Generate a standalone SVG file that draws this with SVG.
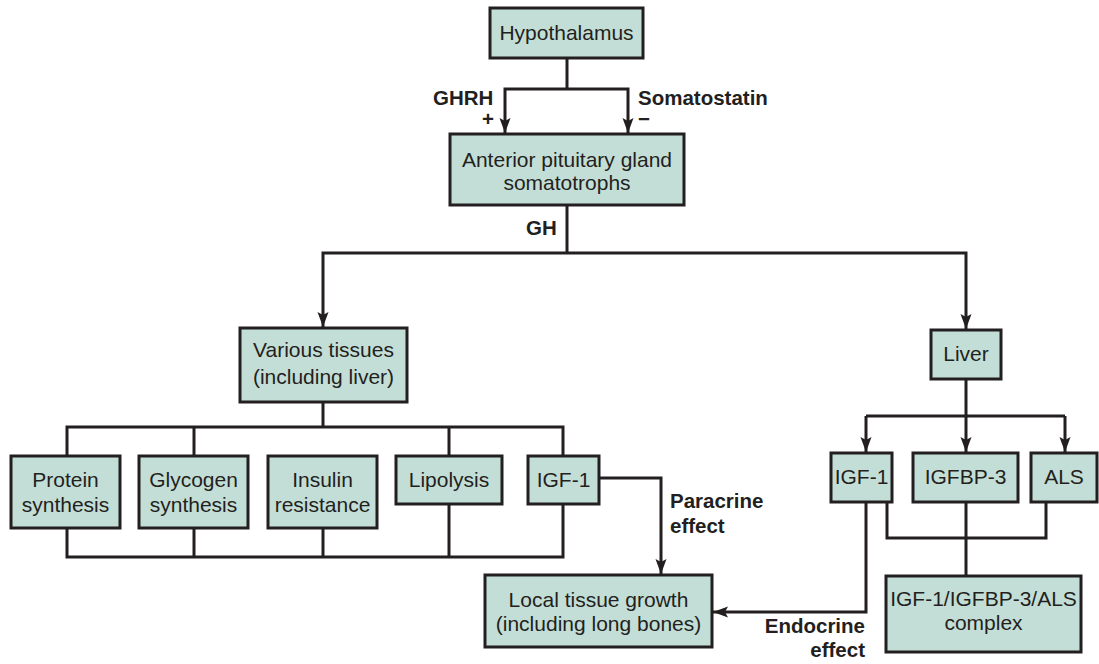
<svg xmlns="http://www.w3.org/2000/svg" width="1099" height="664" viewBox="0 0 1099 664">
<style>
.box{fill:#c3ded6;stroke:#231f20;stroke-width:3}
.t{font-family:"Liberation Sans",Arial,sans-serif;font-size:21px;fill:#231f20;text-anchor:middle}
.b{font-family:"Liberation Sans",Arial,sans-serif;font-size:20.5px;font-weight:bold;fill:#231f20}
.c{fill:none;stroke:#231f20;stroke-width:3}
</style>
<defs>
<marker id="ah" markerUnits="userSpaceOnUse" viewBox="0 -6 15 12" refX="15" refY="0" markerWidth="15" markerHeight="12" orient="auto">
<path d="M0,-5.5 L15,0 L0,5.5 L3,0 z" fill="#231f20"/>
</marker>
</defs>
<rect width="1099" height="664" fill="#ffffff"/>
<g id="connectors">
<path class="c" d="M567 58 V89"/>
<path class="c" d="M567 89 H505 V133" marker-end="url(#ah)"/>
<path class="c" d="M567 89 H628 V133" marker-end="url(#ah)"/>
<path class="c" d="M567 205 V253"/>
<path class="c" d="M567 253 H323 V327" marker-end="url(#ah)"/>
<path class="c" d="M567 253 H966 V329" marker-end="url(#ah)"/>
<path class="c" d="M323 402 V427"/>
<path class="c" d="M67 456 V427 H563 V456"/>
<path class="c" d="M194 427 V456"/>
<path class="c" d="M449 427 V456"/>
<path class="c" d="M67 528 V557 H563 V504"/>
<path class="c" d="M194 528 V557"/>
<path class="c" d="M323 528 V557"/>
<path class="c" d="M449 504 V557"/>
<path class="c" d="M599 478 H661 V574" marker-end="url(#ah)"/>
<path class="c" d="M966 379 V416"/>
<path class="c" d="M866 416 H1065"/>
<path class="c" d="M866 416 V452" marker-end="url(#ah)"/>
<path class="c" d="M966 416 V452" marker-end="url(#ah)"/>
<path class="c" d="M1065 416 V452" marker-end="url(#ah)"/>
<path class="c" d="M866 502 V612 H713" marker-end="url(#ah)"/>
<path class="c" d="M887 502 V538 H1046 V502"/>
<path class="c" d="M966 502 V576"/>
</g>
<g id="labels">
<text class="b" x="433" y="105">GHRH</text>
<text class="b" x="482" y="126">+</text>
<text class="b" x="638" y="105">Somatostatin</text>
<text class="b" x="638" y="126">−</text>
<text class="b" x="526" y="235">GH</text>
<text class="b" x="670" y="508">Paracrine</text>
<text class="b" x="670" y="533">effect</text>
<text class="b" x="865" y="633" text-anchor="end">Endocrine</text>
<text class="b" x="865" y="657" text-anchor="end">effect</text>
</g>
<g id="hypothalamus"><rect class="box" x="490" y="8" width="153" height="50"/><text class="t" x="566.5" y="40">Hypothalamus</text></g>
<g id="pituitary"><rect class="box" x="450" y="134" width="234" height="71"/><text class="t" x="567" y="167">Anterior pituitary gland</text><text class="t" x="567" y="190">somatotrophs</text></g>
<g id="various"><rect class="box" x="240" y="328" width="167" height="74"/><text class="t" x="323.5" y="357">Various tissues</text><text class="t" x="323.5" y="384">(including liver)</text></g>
<g id="liver"><rect class="box" x="931" y="330" width="70" height="49"/><text class="t" x="966" y="361">Liver</text></g>
<g id="protein"><rect class="box" x="11" y="456" width="109" height="72"/><text class="t" x="65.5" y="487">Protein</text><text class="t" x="65.5" y="512">synthesis</text></g>
<g id="glycogen"><rect class="box" x="139" y="456" width="109" height="72"/><text class="t" x="193.5" y="487">Glycogen</text><text class="t" x="193.5" y="512">synthesis</text></g>
<g id="insulin"><rect class="box" x="268" y="456" width="109" height="72"/><text class="t" x="322.5" y="487">Insulin</text><text class="t" x="322.5" y="512">resistance</text></g>
<g id="lipolysis"><rect class="box" x="396" y="456" width="106" height="48"/><text class="t" x="449" y="487">Lipolysis</text></g>
<g id="igf1-local"><rect class="box" x="528" y="456" width="71" height="48"/><text class="t" x="563.5" y="487">IGF-1</text></g>
<g id="local-growth"><rect class="box" x="485" y="575" width="227" height="72"/><text class="t" x="598.5" y="607">Local tissue growth</text><text class="t" x="598.5" y="631">(including long bones)</text></g>
<g id="igf1-liver"><rect class="box" x="831" y="453" width="61" height="49"/><text class="t" x="861.5" y="484">IGF-1</text></g>
<g id="igfbp3"><rect class="box" x="913" y="453" width="105" height="49"/><text class="t" x="965.5" y="484">IGFBP-3</text></g>
<g id="als"><rect class="box" x="1031" y="453" width="66" height="49"/><text class="t" x="1064" y="484">ALS</text></g>
<g id="complex"><rect class="box" x="886" y="576" width="195" height="76"/><text class="t" x="983.5" y="606">IGF-1/IGFBP-3/ALS</text><text class="t" x="983.5" y="630">complex</text></g>
</svg>
